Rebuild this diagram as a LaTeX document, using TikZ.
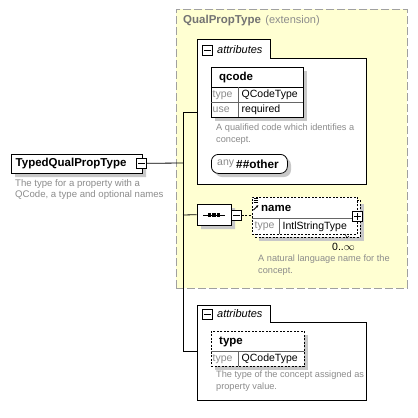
\documentclass[tikz,border=0pt]{standalone}
\usepackage{fontspec}
\setmainfont{Liberation Sans}
\usetikzlibrary{shapes.misc,arrows.meta}
\definecolor{extfill}{HTML}{FFFFD2}
\definecolor{extline}{HTML}{A0A0A0}
\definecolor{desc}{HTML}{8C8C8C}
\definecolor{shad}{HTML}{C8C8C8}
\begin{document}
\begin{tikzpicture}[x=1pt,y=-1pt,
  box/.style={draw=black, fill=white, line width=0.8pt, inner sep=0pt, anchor=north west},
  dbox/.style={box, dashed, dash pattern=on 2pt off 1.5pt},
  shadowbox/.style={fill=shad, draw=none, inner sep=0pt, anchor=north west},
  desctext/.style={text=desc, font=\fontsize{9.2}{11.5}\selectfont, anchor=north west, inner sep=0pt, align=left},
  bold/.style={font=\fontsize{11.5}{13}\selectfont\bfseries, inner sep=0pt, anchor=west},
  small/.style={font=\fontsize{10.5}{12}\selectfont, inner sep=0pt, anchor=west},
  graysmall/.style={small, text=desc},
  pm/.style={draw=black, fill=white, line width=0.6pt, minimum width=10pt, minimum height=10pt, inner sep=0pt, anchor=north west},
  conn/.style={line width=0.8pt}
]
\useasboundingbox (0,0) rectangle (418,418);
\fill[white] (0,0) rectangle (418,418);

% extension box
\node[draw=extline, fill=extfill, dash pattern=on 8pt off 3pt, line width=0.8pt, minimum width=231pt, minimum height=279pt, inner sep=0pt, anchor=north west] (ext) at (176,9) {};
\node[anchor=base west, inner sep=0pt, text=black!55, font=\fontsize{11.5}{13}\selectfont\bfseries] (exttitle) at (183,23) {QualPropType};
\node[anchor=base west, inner sep=0pt, text=desc, font=\fontsize{11}{13}\selectfont] (extsub) at ([xshift=4pt]exttitle.base east) {(extension)};

% attributes box 1
\node[inner sep=0pt, minimum width=169pt, minimum height=126pt, anchor=north west] (attr1) at (197,58) {};
\draw[fill=white, line width=0.8pt] (197,184) -- (197,39) -- (270,39) -- (270,58) -- (366,58) -- (366,184) -- cycle;
\node[pm] (attr1m) at (202,45) {};
\draw[line width=0.6pt] ([xshift=2pt]attr1m.west) -- ([xshift=-2pt]attr1m.east);
\node[anchor=west, inner sep=0pt, font=\fontsize{11}{13}\selectfont\itshape] (attr1t) at (217,50) {attributes};

% qcode
\node[shadowbox, minimum width=92pt, minimum height=50pt] (qcodesh) at (215,71) {};
\node[box, minimum width=92pt, minimum height=50pt] (qcode) at (211,67) {};
\draw[line width=0.8pt] (211,87) -- (303,87);
\draw[line width=0.5pt, black!60] (211,102) -- (303,102);
\draw[line width=0.5pt, black!60] (238,87) -- (238,117);
\node[bold] (qcodet) at (219,77.5) {qcode};
\node[graysmall] (qt1) at (212.5,95) {type};
\node[small] (qt2) at (241.5,95) {QCodeType};
\node[graysmall] (qu1) at (212.5,110) {use};
\node[small] (qu2) at (241.5,110) {required};
\node[desctext] (qdesc) at (216,124) {A qualified code which identifies a\\concept.};

% any
\fill[shad, rounded corners=7pt] (215,158) rectangle (291,177);
\node[draw=black, fill=white, line width=0.8pt, rounded corners=7pt, minimum width=76pt, minimum height=19pt, inner sep=0pt, anchor=north west] (any) at (211,154) {};
\node[graysmall] (anyt) at (217,164) {any};
\node[font=\fontsize{11.8}{14}\selectfont\bfseries, inner sep=0pt, anchor=west] (anyo) at (236,164) {\#\#other};

% main element
\node[fill=shad, chamfered rectangle, chamfered rectangle corners={north west,south west}, chamfered rectangle xsep=4pt, chamfered rectangle ysep=4pt, minimum width=131pt, minimum height=19pt, inner sep=0pt, anchor=north west] (mainsh) at (15,158) {};
\node[draw=black, fill=white, line width=0.8pt, chamfered rectangle, chamfered rectangle corners={north west,south west}, chamfered rectangle xsep=4pt, chamfered rectangle ysep=4pt, minimum width=131pt, minimum height=19pt, inner sep=0pt, anchor=north west] (main) at (11,154) {};
\node[bold] (maint) at (15.5,164) {TypedQualPropType};
\node[pm] (mainm) at (136,158) {};
\draw[line width=0.6pt] ([xshift=2pt]mainm.west) -- ([xshift=-2pt]mainm.east);
\node[desctext, font=\fontsize{9.6}{11.5}\selectfont] (maindesc) at (15,179) {The type for a property with a\\QCode, a type and optional names};

% connectors
\coordinate (j1) at (183,163);
\coordinate (jt) at (183,112);
\coordinate (jm) at (183,215);
\coordinate (jb) at (183,351);
\draw[conn] (mainm.east) -- (j1);
\draw[conn] (jt) -- (jb);
\draw[conn] (jt) -- (attr1.west |- jt);
\draw[conn] (jb) -- (197,351);

% sequence
\node[fill=shad, chamfered rectangle, chamfered rectangle xsep=4pt, chamfered rectangle ysep=4pt, minimum width=34pt, minimum height=21pt, inner sep=0pt, anchor=north west] (seqsh) at (201,208) {};
\node[draw=black, fill=white, line width=0.8pt, chamfered rectangle, chamfered rectangle xsep=4pt, chamfered rectangle ysep=4pt, minimum width=34pt, minimum height=21pt, inner sep=0pt, anchor=north west] (seq) at (197,204) {};
\draw[line width=0.8pt] (203,215) -- (225,215);
\foreach \dx in {209.5,214,218.5} \fill (\dx-1.6,213.4) rectangle (\dx+1.6,216.6);
\node[pm] (seqm) at (231,210) {};
\draw[line width=0.6pt] ([xshift=2pt]seqm.west) -- ([xshift=-2pt]seqm.east);
\draw[conn] (jm) -- (seq.west);

% name element
\node[shadowbox, minimum width=105pt, minimum height=37pt] (namesh) at (259,204) {};
\node[dbox, minimum width=105pt, minimum height=37pt] (nameb) at (255,200) {};
\node[dbox, minimum width=105pt, minimum height=37pt] (name) at (252,197) {};
\draw[line width=0.5pt, black!60] (252,218) -- (357,218);
\draw[line width=0.5pt, black!60] (279,218) -- (279,234);
\draw[conn, dashed, dash pattern=on 2pt off 1.5pt] (seqm.east) -- (name.west |- seqm.east);
\node[bold] (namet) at (261,208) {name};
\draw[line width=0.5pt] (253.5,198.5) -- (258,198.5) (253.5,200.3) -- (258,200.3) (253.5,202.1) -- (258,202.1);
\draw[line width=0.8pt, -{Latex[length=2.5pt,width=2.5pt]}] (253.5,210) -- (258.5,205);
\node[graysmall] (nt1) at (254.5,226.5) {type};
\node[small] (nt2) at (282.5,226.5) {IntlStringType};
\node[pm] (namep) at (352,211) {};
\draw[line width=0.6pt] ([xshift=2pt]namep.west) -- ([xshift=-2pt]namep.east) ([yshift=-2pt]namep.north) -- ([yshift=2pt]namep.south);
\draw[line width=0.5pt] (345,234) -- (347,238) -- (349,236);
\node[anchor=base west, inner sep=0pt, font=\fontsize{10.5}{12}\selectfont] (namecard) at (332,250.5) {0..$\infty$};
\node[desctext] (namedesc) at (258,255) {A natural language name for the\\concept.};

% attributes box 2
\node[inner sep=0pt, minimum width=169pt, minimum height=78pt, anchor=north west] (attr2) at (197,322) {};
\draw[fill=white, line width=0.8pt] (197,400) -- (197,305) -- (270,305) -- (270,322) -- (366,322) -- (366,400) -- cycle;
\node[pm] (attr2m) at (202,309) {};
\draw[line width=0.6pt] ([xshift=2pt]attr2m.west) -- ([xshift=-2pt]attr2m.east);
\node[anchor=west, inner sep=0pt, font=\fontsize{11}{13}\selectfont\itshape] (attr2t) at (217,314) {attributes};

% type attribute
\node[shadowbox, minimum width=93pt, minimum height=35pt] (typesh) at (215,335) {};
\node[dbox, minimum width=93pt, minimum height=35pt] (typeb) at (211,331) {};
\draw[line width=0.5pt, black!60] (211,351) -- (304,351);
\draw[line width=0.5pt, black!60] (238,351) -- (238,366);
\node[bold] (typet) at (219,341.5) {type};
\node[graysmall] (tt1) at (212.5,359) {type};
\node[small] (tt2) at (241.5,359) {QCodeType};
\node[desctext] (typedesc) at (216,371) {The type of the concept assigned as\\property value.};
\end{tikzpicture}
\end{document}
